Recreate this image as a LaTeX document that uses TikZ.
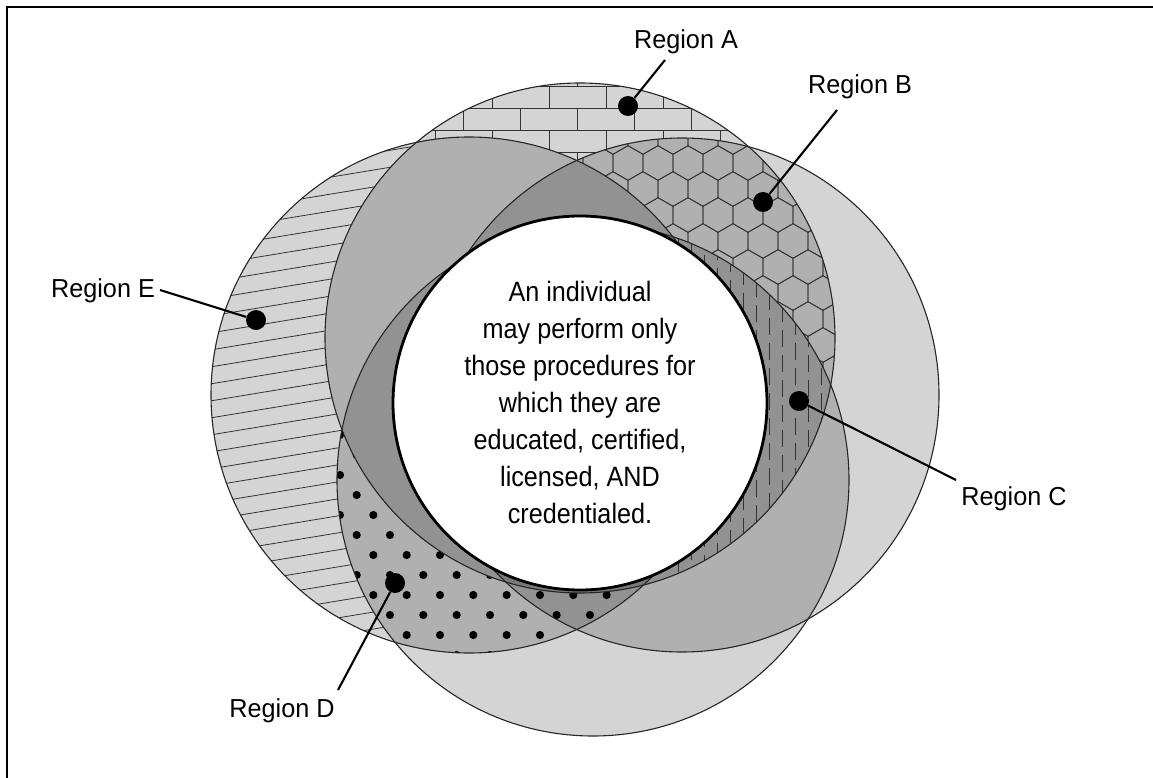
\documentclass[tikz,border=0pt]{standalone}
\usepackage{fontspec}
\setmainfont{Liberation Sans}[FakeStretch=0.9]
\newfontfamily\labfont{Liberation Sans}[FakeStretch=0.97]
\begin{document}
\begin{tikzpicture}[x=1pt,y=-1pt,
  tint/.style={fill=black,fill opacity=0.17},
  ring/.style={draw=black!85,line width=1.1pt},
  pat/.style={draw=black!80,line width=0.8pt},
  msgfont/.style={font=\fontsize{28}{37}\selectfont,inner sep=0pt},
  lbl/.style={font=\labfont\fontsize{26}{30}\selectfont,inner sep=0pt},
  spot/.style={circle,fill=black,inner sep=0pt,minimum size=20pt},
  leader/.style={draw=black,line width=2.1pt},
  frameline/.style={draw=black,line width=2pt}]
\useasboundingbox (0,0) rectangle (1153,778);
\coordinate (cA) at (580,338);
\coordinate (cE) at (469,395);
\coordinate (cR) at (682,395);
\coordinate (cD) at (593,480);
\def\rA{255pt}\def\rE{258pt}\def\rR{257pt}\def\rD{256pt}
% frame
\coordinate (f1) at (7,778); \coordinate (f2) at (7,7); \coordinate (f3) at (1153,7);
\draw[frameline] (f1) -- (f2) -- (f3);
% translucent discs
\fill[tint] (cA) circle [radius=\rA];
\fill[tint] (cE) circle [radius=\rE];
\fill[tint] (cR) circle [radius=\rR];
\fill[tint] (cD) circle [radius=\rD];
% Region A : bricks
\begin{scope}[even odd rule]
  \clip (cA) circle [radius=\rA];
  \clip (0,0) rectangle (1153,778) (cE) circle [radius=\rE];
  \clip (0,0) rectangle (1153,778) (cR) circle [radius=\rR];
  \foreach \r in {0,...,6} {\draw[pat] (300,{64+22*\r}) -- (900,{64+22*\r});}
  \foreach \r in {0,...,5} {
    \foreach \k in {-5,...,6} {
      \pgfmathsetmacro\xx{520.5+28.5*mod(\r,2)+57*\k}
      \draw[pat] (\xx,{64+22*\r}) -- (\xx,{86+22*\r});
    }
  }
\end{scope}
% Region E : slanted lines
\begin{scope}[even odd rule]
  \clip (cE) circle [radius=\rE];
  \clip (0,0) rectangle (1153,778) (cA) circle [radius=\rA];
  \clip (0,0) rectangle (1153,778) (cD) circle [radius=\rD];
  \foreach \k in {-16,...,26} {\draw[pat] (150,{342.9+17*\k}) -- (520,{281.85+17*\k});}
\end{scope}
% Region B : hexagons
\begin{scope}[even odd rule]
  \clip (cA) circle [radius=\rA];
  \clip (cR) circle [radius=\rR];
  \clip (0,0) rectangle (1153,778) (cE) circle [radius=\rE];
  \clip (0,0) rectangle (1153,778) (cD) circle [radius=\rD];
  \foreach \i in {0,...,11} {
    \foreach \j in {0,...,11} {
      \pgfmathsetmacro\hx{553+30*\j+15*mod(\i,2)}
      \pgfmathsetmacro\hy{137+26*\i}
      \draw[pat,shift={(\hx,\hy)}] (30:17.32pt) -- (90:17.32pt) -- (150:17.32pt) -- (210:17.32pt) -- (270:17.32pt) -- (330:17.32pt) -- cycle;
    }
  }
\end{scope}
% Region C : vertical dashes
\begin{scope}[even odd rule]
  \clip (cA) circle [radius=\rA];
  \clip (cR) circle [radius=\rR];
  \clip (cD) circle [radius=\rD];
  \clip (0,0) rectangle (1153,778) (cE) circle [radius=\rE];
  \foreach \k in {0,...,14} {
    \pgfmathsetmacro\dx{678+13*\k}
    \pgfmathsetmacro\dph{12.5*mod(\k,2)}
    \draw[pat,dash pattern=on 17pt off 8pt,dash phase={\dph pt}] (\dx,230) -- (\dx,620);
  }
\end{scope}
% Region D : dots
\begin{scope}[even odd rule]
  \clip (cE) circle [radius=\rE];
  \clip (cD) circle [radius=\rD];
  \clip (0,0) rectangle (1153,778) (cA) circle [radius=\rA];
  \foreach \r in {0,...,13} {
    \foreach \k in {0,...,10} {
      \pgfmathsetmacro\px{323.33+16.67*mod(\r,2)+33.33*\k}
      \fill (\px,{415+20*\r}) circle [radius=4.1pt];
    }
  }
\end{scope}
% outlines
\draw[ring] (cA) circle [radius=\rA];
\draw[ring] (cE) circle [radius=\rE];
\draw[ring] (cR) circle [radius=\rR];
\draw[ring] (cD) circle [radius=\rD];
% centre
\node[circle,draw=black,fill=white,line width=2.8pt,minimum size=374pt,inner sep=0pt] (core) at (580,403) {};
\node[msgfont,align=center] (msg) at (580,402) {An individual\\may perform only\\those procedures for\\which they are\\educated, certified,\\licensed, AND\\credentialed.};
% labels
\node[lbl] (labA) at (686,42) {Region A};
\node[lbl] (labB) at (860,87) {Region B};
\node[lbl] (labC) at (1014,499) {Region C};
\node[lbl] (labD) at (282,711) {Region D};
\node[lbl] (labE) at (103,291) {Region E};
\node[spot] (dA) at (628,106) {};
\node[spot] (dB) at (763,202) {};
\node[spot] (dC) at (799,401) {};
\node[spot] (dD) at (395,583) {};
\node[spot] (dE) at (256,320) {};
\coordinate (tA) at (665,60);
\coordinate (tB) at (837,110);
\coordinate (tC) at (956,480);
\coordinate (tD) at (338,690);
\coordinate (tE) at (160,290);
\draw[leader] (tA) -- (dA);
\draw[leader] (tB) -- (dB);
\draw[leader] (tC) -- (dC);
\draw[leader] (tD) -- (dD);
\draw[leader] (tE) -- (dE);
\end{tikzpicture}
\end{document}
